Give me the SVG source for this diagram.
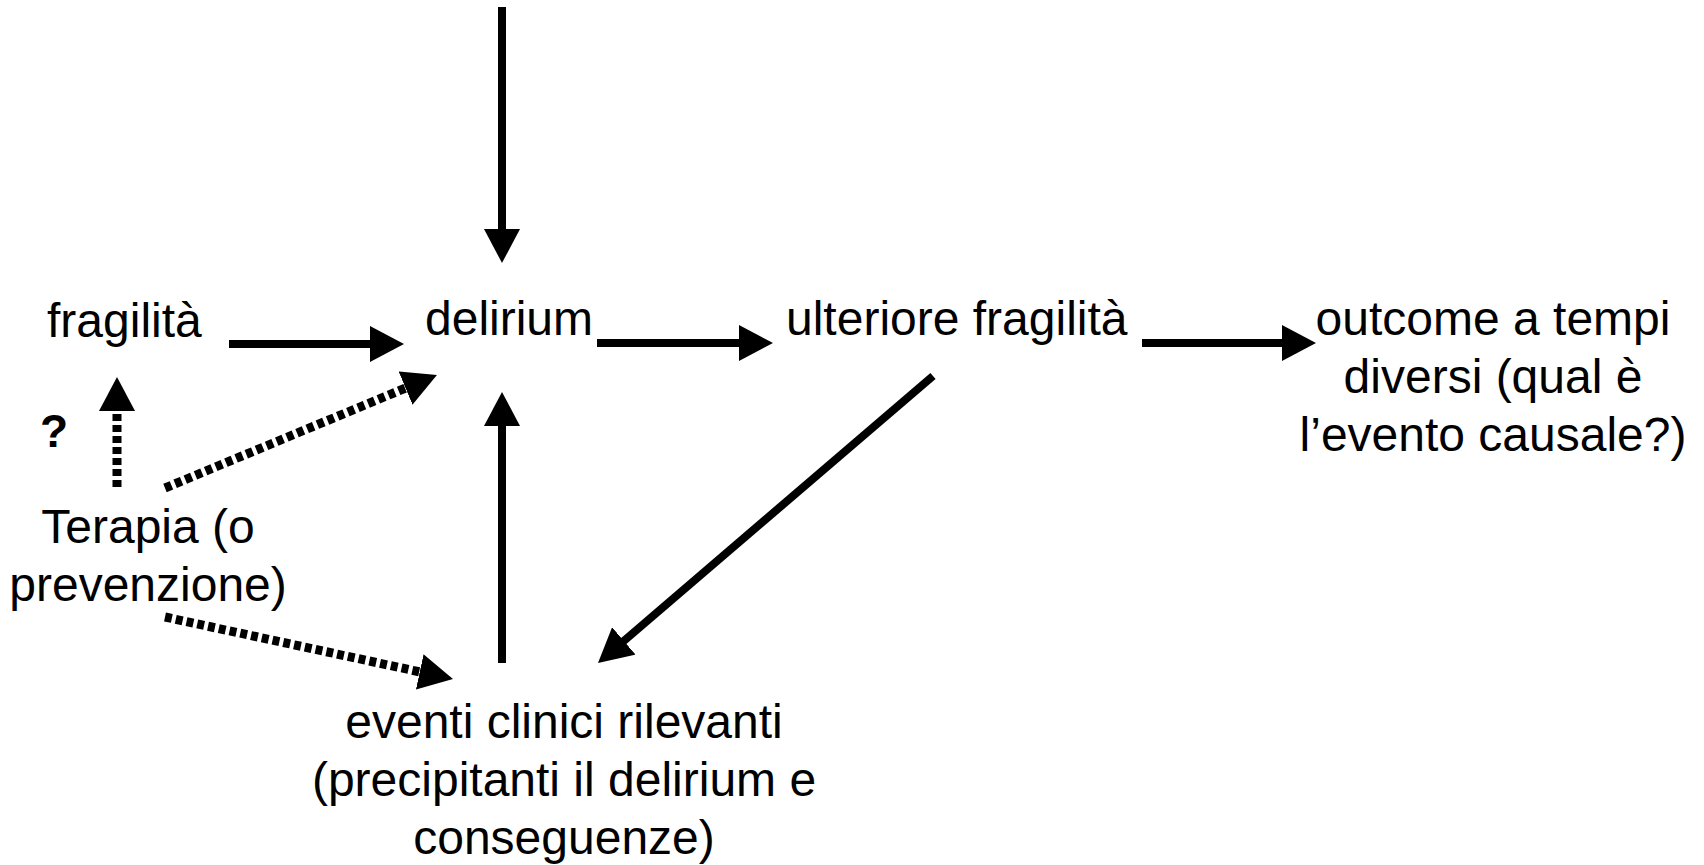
<svg xmlns="http://www.w3.org/2000/svg" width="1704" height="865" viewBox="0 0 1704 865">
<style>
.t{font-family:"Liberation Sans",Arial,sans-serif;font-size:48px;fill:#000}
.q{font-family:"Liberation Sans",Arial,sans-serif;font-size:46px;font-weight:bold;fill:#000}
.s{stroke:#000;stroke-width:8;fill:none;marker-end:url(#ah)}
.d{stroke:#000;stroke-width:9;fill:none;stroke-dasharray:7 4;marker-end:url(#ah)}
</style>
<defs>
<marker id="ah" markerUnits="userSpaceOnUse" viewBox="0 0 34 36" refX="2" refY="18" markerWidth="34" markerHeight="36" orient="auto">
<path d="M0,0 L34,18 L0,36 Z" fill="#000"/>
</marker>
</defs>
<rect width="1704" height="865" fill="#fff"/>
<g id="connectors">
<line class="s" x1="502" y1="7" x2="502" y2="231"/>
<line class="s" x1="229" y1="344" x2="372" y2="344"/>
<line class="s" x1="597" y1="343" x2="741" y2="343"/>
<line class="s" x1="1142" y1="343" x2="1284" y2="343"/>
<line class="s" x1="502" y1="663" x2="502" y2="424"/>
<line class="s" x1="933" y1="376" x2="622.3" y2="642.2"/>
<line class="d" x1="117" y1="487" x2="117" y2="409"/>
<line class="d" x1="165" y1="488" x2="407.4" y2="387.3"/>
<line class="d" x1="165" y1="617" x2="421.7" y2="672.3"/>
</g>
<g id="fragilita"><text class="t" x="47" y="337">fragilità</text></g>
<g id="delirium"><text class="t" x="425" y="335">delirium</text></g>
<g id="ulteriore"><text class="t" x="786" y="335">ulteriore fragilità</text></g>
<g id="outcome"><text class="t" text-anchor="middle"><tspan x="1493" y="335">outcome a tempi</tspan><tspan x="1493" y="393">diversi (qual è</tspan><tspan x="1493" y="451">l’evento causale?)</tspan></text></g>
<g id="question"><text class="q" x="40" y="447">?</text></g>
<g id="terapia"><text class="t" text-anchor="middle"><tspan x="148" y="543">Terapia (o</tspan><tspan x="148" y="601">prevenzione)</tspan></text></g>
<g id="eventi"><text class="t" text-anchor="middle"><tspan x="564" y="738">eventi clinici rilevanti</tspan><tspan x="564" y="796">(precipitanti il delirium e</tspan><tspan x="564" y="854">conseguenze)</tspan></text></g>
</svg>
